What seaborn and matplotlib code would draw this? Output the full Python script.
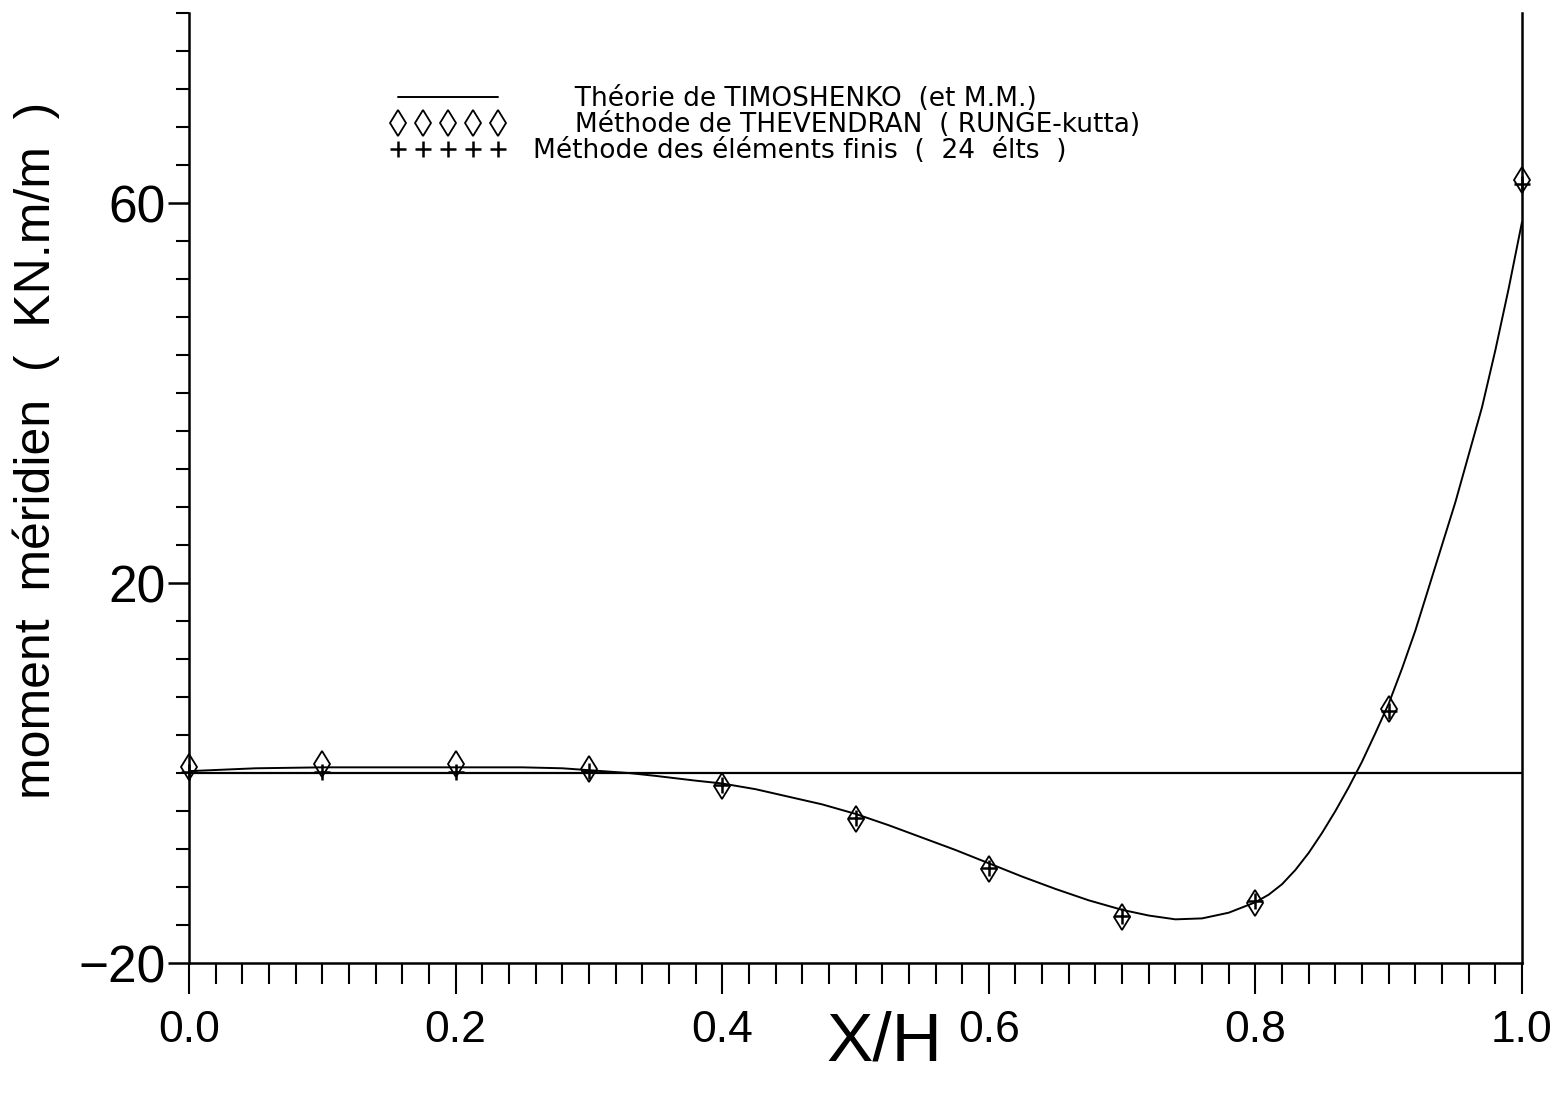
import numpy as np
import pandas as pd
import matplotlib
matplotlib.use("Agg")
import matplotlib.pyplot as plt
from matplotlib.ticker import FixedLocator, MultipleLocator, FormatStrFormatter
import seaborn as sns

# data -------------------------------------------------------------
# Timoshenko theory (continuous curve)
curve_x = [0.0, 0.05, 0.1, 0.15, 0.2, 0.25, 0.28, 0.3, 0.33, 0.35, 0.38, 0.4,
           0.425, 0.45, 0.475, 0.5, 0.525, 0.55, 0.575, 0.6, 0.625, 0.65, 0.675,
           0.7, 0.72, 0.74, 0.76, 0.78, 0.8, 0.81, 0.82, 0.83, 0.84, 0.85, 0.86,
           0.87, 0.88, 0.89, 0.9, 0.91, 0.92, 0.93, 0.94, 0.95, 0.96, 0.97, 0.98,
           0.99, 1.0]
curve_m = [0.2, 0.5, 0.6, 0.6, 0.6, 0.6, 0.5, 0.3, 0.0, -0.3, -0.8, -1.1,
           -1.7, -2.5, -3.3, -4.3, -5.5, -6.8, -8.1, -9.5, -10.9, -12.2, -13.4,
           -14.4, -15.0, -15.4, -15.3, -14.7, -13.6, -12.8, -11.7, -10.2, -8.4, -6.3, -4.0,
           -1.5, 1.2, 4.2, 7.3, 11.0, 15.0, 19.5, 24.0, 28.5, 33.5, 38.5, 44.5,
           51.0, 58.0]

# Thevendran (Runge-Kutta) and finite elements (24 elts), at X/H = 0, 0.1, ... 1
pts_x = [0.0, 0.1, 0.2, 0.3, 0.4, 0.5, 0.6, 0.7, 0.8, 0.9, 1.0]
rk_m = [0.6, 0.9, 0.9, 0.4, -1.4, -4.8, -10.1, -15.2, -13.7, 6.7, 62.4]
fem_m = [0.1, 0.1, 0.1, 0.2, -1.3, -4.7, -10.0, -15.0, -13.5, 6.5, 62.0]

labels = ["     Théorie de TIMOSHENKO  (et M.M.)",
          "     Méthode de THEVENDRAN  ( RUNGE-kutta)",
          "Méthode des éléments finis  (  24  élts  )"]

# style ----------------------------------------------------------------
sns.set_style("ticks")
plt.rcParams["font.family"] = ["Liberation Sans", "DejaVu Sans"]
for k in ("text.color", "axes.labelcolor", "xtick.color", "ytick.color", "axes.edgecolor"):
    plt.rcParams[k] = "black"

fig, ax = plt.subplots(figsize=(15.51, 10.93), dpi=100)
fig.subplots_adjust(left=0.1219, right=0.9813, bottom=0.1189, top=0.9881)

curve = pd.DataFrame({"x": curve_x, "m": curve_m})
pts = pd.DataFrame({"x": pts_x, "rk": rk_m, "fem": fem_m})

sns.lineplot(data=curve, x="x", y="m", ax=ax, color="black", linewidth=1.4,
             label=labels[0], sort=False)
sns.lineplot(data=pts, x="x", y="rk", ax=ax, linestyle="", marker="d",
             markersize=13.5, markerfacecolor="none", markeredgecolor="black",
             markeredgewidth=1.3, color="black", label=labels[1], clip_on=False)
sns.lineplot(data=pts, x="x", y="fem", ax=ax, linestyle="", marker="+",
             markersize=11, markeredgecolor="black", markeredgewidth=1.8,
             color="black", label=labels[2], clip_on=False)

ax.axhline(0, color="black", linewidth=1.6, zorder=1)

# axes --------------------------------------------------------------
ax.set_xlim(0, 1.0)
ax.set_ylim(-20, 80)
ax.spines["top"].set_visible(False)
for s in ("left", "bottom", "right"):
    ax.spines[s].set_linewidth(1.8)

ax.xaxis.set_major_locator(MultipleLocator(0.2))
ax.xaxis.set_minor_locator(MultipleLocator(0.02))
ax.xaxis.set_major_formatter(FormatStrFormatter("%.1f"))
ax.yaxis.set_major_locator(FixedLocator([-20, 20, 60]))
ax.yaxis.set_minor_locator(MultipleLocator(4))

ax.tick_params(axis="x", which="major", direction="out", length=22, width=1.5,
               pad=12, labelsize=32)
ax.tick_params(axis="x", which="minor", direction="out", length=15, width=1.5)
ax.tick_params(axis="y", which="major", direction="out", length=15, width=1.8,
               pad=2, labelsize=37)
ax.tick_params(axis="y", which="minor", direction="out", length=9.5, width=1.5)

ax.set_xlabel("X/H", fontsize=50, va="top")
ax.xaxis.set_label_coords(0.522, -0.05)
ax.set_ylabel("moment  méridien  (  KN.m/m  )", fontsize=36)
ax.yaxis.set_label_coords(-0.097, 0.54)

leg = ax.legend(loc="upper left", bbox_to_anchor=(0.141, 0.937), frameon=False,
                numpoints=5, handlelength=4.4, handletextpad=1.0,
                labelspacing=0.0, borderpad=0,
                prop={"family": "DejaVu Sans", "size": 19})

fig.savefig("out.png", dpi=100)
